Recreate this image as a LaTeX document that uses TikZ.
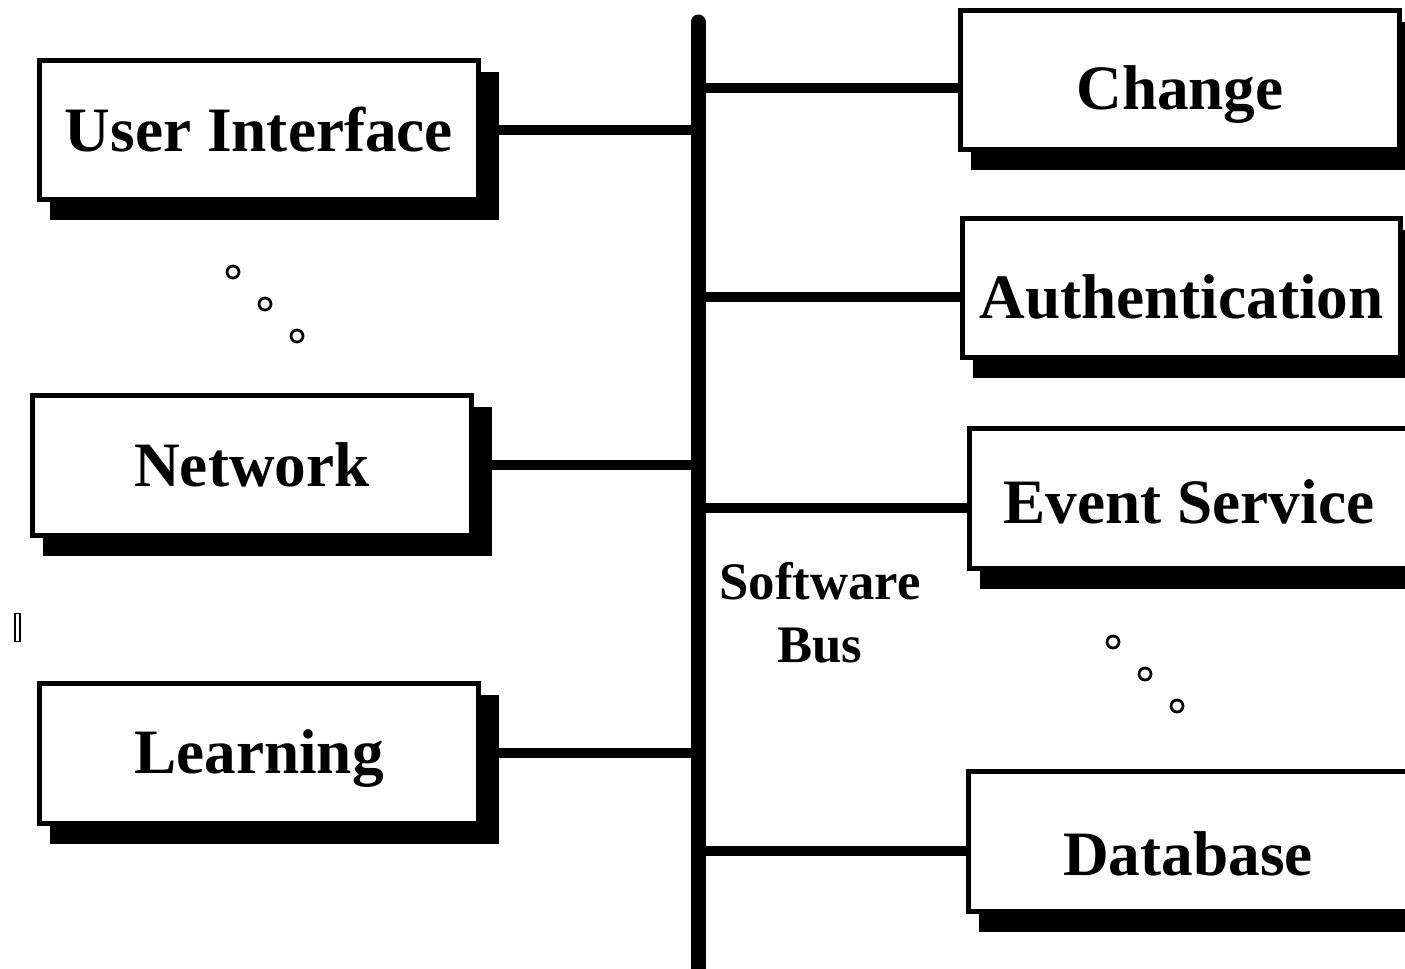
\documentclass[tikz,border=0pt]{standalone}
\usepackage{fontspec}
\setmainfont{Liberation Serif}
\usetikzlibrary{calc, backgrounds}

\begin{document}
\begin{tikzpicture}[x=0.02cm, y=-0.02cm]
	\tikzset{module/.style={draw, rectangle, fill=white, line width=0.1cm,
			minimum width=8.78cm, minimum height=2.8cm, inner sep=0pt,
			font=\bfseries\fontsize{36}{40}\selectfont, text height=0.85cm, text depth=0pt}}
	\tikzset{lowered/.style={text height=#1}}
	\tikzset{link/.style={line width=0.2cm, line cap=round}}
	\tikzset{dot/.style={draw, circle, line width=0.055cm, minimum size=0.24cm, inner sep=0pt}}
	\useasboundingbox (0,0) rectangle (1405,968);
	
	% the bus
	\coordinate (bus) at (698,22);
	\coordinate (busend) at (698,980);
	\draw[line width=0.3cm, line cap=round] (bus) -- (busend);
	\node[font=\bfseries\fontsize{30}{36}\selectfont, align=center] (buslabel) at (820,613) {Software\\Bus};
	
	% left side
	\node(ui) at (259,130) [module] {User Interface};
	\node(network) at (252,465) [module] {Network};
	\node(learning) at (259,753) [module, lowered=0.8cm] {Learning};
	
	% right side
	\node(change) at (1180,80) [module, lowered=1.17cm] {Change};
	\node(auth) at (1181.5,288) [module, minimum width=8.76cm, lowered=1.21cm] {Authentication};
	\node(event) at (1189,498) [module, minimum width=8.8cm, lowered=1.03cm] {Event Service};
	\node(database) at (1188,841) [module, minimum width=8.8cm, lowered=1.39cm] {Database};
	
	\begin{scope}[on background layer]
		\foreach \n in {ui, network, learning, change, auth, event, database}
		\fill ($(\n.north west)+(13,14)$) rectangle ($(\n.south east)+(18,18)$);
	\end{scope}
	
	\draw[link] (ui.east) -- (ui.east -| bus);
	\draw[link] (network.east) -- (network.east -| bus);
	\draw[link] (learning.east) -- (learning.east -| bus);
	\draw[link] ([yshift=-0.16cm]change.west -| bus) -- ([yshift=-0.16cm]change.west);
	\draw[link] ([yshift=-0.18cm]auth.west -| bus) -- ([yshift=-0.18cm]auth.west);
	\draw[link] ([yshift=-0.2cm]event.west -| bus) -- ([yshift=-0.2cm]event.west);
	\draw[link] ([yshift=-0.2cm]database.west -| bus) -- ([yshift=-0.2cm]database.west);
	
	% ellipsis dots
	\node[dot] (l1) at (233,272) {};
	\node[dot] (l2) at (265,304) {};
	\node[dot] (l3) at (297,336) {};
	\node[dot] (r1) at (1113,642) {};
	\node[dot] (r2) at (1145,674) {};
	\node[dot] (r3) at (1177,706) {};
	
	\node[draw, line width=0.03cm, minimum width=0.11cm, minimum height=0.56cm, inner sep=0pt] (glyph) at (17.5,627.5) {};
\end{tikzpicture}
\end{document}
